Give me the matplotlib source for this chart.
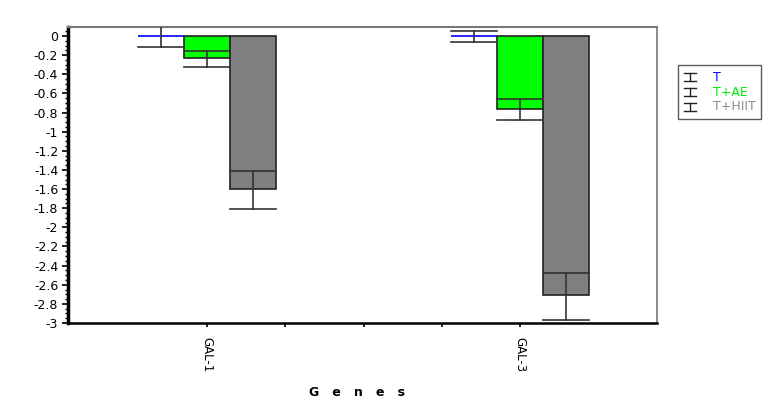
import matplotlib
matplotlib.use("Agg")
import matplotlib.pyplot as plt
from matplotlib.ticker import MultipleLocator, FixedLocator
from matplotlib.lines import Line2D
from matplotlib.legend_handler import HandlerBase

plt.rcParams['font.family'] = ['DejaVu Sans']

genes = ["GAL-1", "GAL-3"]
groups = ["T", "T+AE", "T+HIIT"]
values = {
    "T": [0.0, 0.0],
    "T+AE": [-0.225, -0.76],
    "T+HIIT": [-1.60, -2.71],
}
errors = {
    "T": [0.11, 0.058],
    "T+AE": [0.085, 0.11],
    "T+HIIT": [0.20, 0.245],
}
err_centers = {
    "T": [0.0, -0.008],
    "T+AE": [-0.24, -0.77],
    "T+HIIT": [-1.61, -2.725],
}
face = {"T": "#0000FF", "T+AE": "#00FF00", "T+HIIT": "#808080"}
text_col = {"T": "#0000FF", "T+AE": "#00EE00", "T+HIIT": "#8C8C8C"}

fig = plt.figure(figsize=(7.83, 4.15), dpi=100)
ax = fig.add_axes([0.0868, 0.2217, 0.7522, 0.7132])

centers = [0, 4]
w = 0.588
offsets = {"T": -w, "T+AE": 0.0, "T+HIIT": w}

for g in groups:
    xs = [c + offsets[g] for c in centers]
    if g == "T":
        ax.bar(xs, values[g], width=w, color="none", edgecolor=face[g], linewidth=1.2, zorder=2)
    else:
        ax.bar(xs, values[g], width=w, color=face[g], edgecolor="#222222", linewidth=1.2, zorder=2)
    for x, yc, e in zip(xs, err_centers[g], errors[g]):
        ax.plot([x, x], [yc - e, yc + e], color="#333333", lw=1.2, zorder=3)
        ax.plot([x - w / 2, x + w / 2], [yc - e, yc - e], color="#333333", lw=1.2, zorder=3)
        ax.plot([x - w / 2, x + w / 2], [yc + e, yc + e], color="#333333", lw=1.2, zorder=3)

ax.set_xlim(-1.78, 5.75)
ax.set_ylim(-3.0, 0.094)

ax.yaxis.set_minor_locator(MultipleLocator(0.05))
yt = [round(-0.2 * i, 1) for i in range(16)]
ax.set_yticks(yt)
ax.set_yticklabels(["0" if v == 0 else ("%g" % v) for v in yt], fontsize=9)

ax.set_xticks(centers)
ax.set_xticklabels(genes, rotation=270, fontsize=8.5)
ax.xaxis.set_minor_locator(FixedLocator([1, 2, 3]))
ax.tick_params(axis="x", which="both", direction="out", length=3, width=1.2, pad=7)
ax.tick_params(axis="y", which="major", direction="out", length=4, width=1.2, pad=3)
ax.tick_params(axis="y", which="minor", direction="out", length=2, width=1.0)

ax.spines["left"].set_linewidth(2.5)
ax.spines["bottom"].set_linewidth(1.8)
ax.spines["top"].set_color("#777777")
ax.spines["right"].set_color("#777777")
ax.spines["top"].set_linewidth(1.5)
ax.spines["right"].set_linewidth(1.2)

ax.text((357 - 68) / 589, (323 - 393) / 296, "G   e   n   e   s",
        transform=ax.transAxes, ha="center", va="center",
        fontsize=9, fontweight="bold")


class ErrIcon(HandlerBase):
    def create_artists(self, legend, orig, xd, yd, width, height, fontsize, trans):
        cx = xd + width / 2
        arts = [
            Line2D([cx, cx], [yd, yd + height], color="#222222", lw=1.0, transform=trans),
            Line2D([xd, xd + width], [yd, yd], color="#222222", lw=1.0, transform=trans),
            Line2D([xd, xd + width], [yd + height, yd + height], color="#222222", lw=1.0, transform=trans),
        ]
        return arts


handles = [Line2D([], []) for _ in groups]
leg = fig.legend(handles, groups, loc="upper left", bbox_to_anchor=(678 / 783, 1 - 65 / 415),
                 handler_map={Line2D: ErrIcon()}, fontsize=9, frameon=True,
                 fancybox=False, edgecolor="#333333", handlelength=0.95,
                 handleheight=0.6, handletextpad=1.4, borderpad=0.45, labelspacing=0.15,
                 borderaxespad=0)
leg.get_frame().set_linewidth(1.0)
for t, g in zip(leg.get_texts(), groups):
    t.set_color(text_col[g])

fig.savefig("out.png", dpi=100)
